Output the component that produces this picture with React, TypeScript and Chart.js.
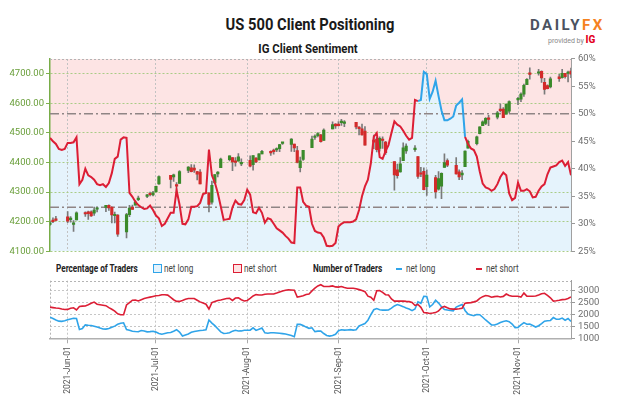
import React, { useEffect, useRef } from "react";
import { Chart, registerables } from "chart.js";

Chart.register(...registerables);

// ---------- DATA ----------
const axisRange = ["2021-05-26", "2021-11-19"];
const seriesStart = "2021-05-26"; // daily series below start on this date

// IG client net-long percentage (daily)
const netLongPct = [
  45.6, 45.0, 44.5, 43.6, 43.4, 43.6,
  44.7, 44.7, 44.8, 45.7, 37.2, 38.0, 40.0, 38.8, 38.5, 38.0,
  37.2, 37.0, 37.2, 36.7, 37.4, 39.2, 41.8, 42.2, 45.3, 45.7,
  45.6, 35.6, 34.9, 34.0, 33.4, 33.0, 32.7, 32.8, 33.3, 32.5,
  31.5, 31.0, 29.6, 30.0, 31.0, 32.0, 32.0, 36.1, 33.5, 30.0,
  29.9, 30.8, 33.1, 33.1, 33.2, 33.8, 35.4, 35.6, 43.5, 38.8,
  37.5, 35.6, 33.2, 30.7, 30.8, 30.9, 33.0, 34.2, 33.6, 33.5,
  34.3, 36.2, 35.3, 32.1, 31.9, 32.9, 32.0, 30.2, 31.0, 30.8,
  30.0, 29.2, 28.8, 28.4, 27.8, 27.3, 26.6, 26.5, 36.6, 36.6,
  34.0, 33.3, 33.1, 30.0, 28.7, 28.4, 28.3, 27.5, 26.0, 25.9,
  26.0, 26.5, 29.5, 30.0, 30.3, 30.3, 30.3, 30.4, 30.8, 32.5,
  35.0, 36.8, 38.0, 41.0, 45.8, 46.5, 42.1, 41.8, 43.2, 44.3,
  46.5, 48.6, 48.0, 47.7, 46.9, 46.0, 45.3, 45.6, 52.5, 52.3,
  52.5, 57.6, 57.2, 52.7, 54.0, 56.0, 53.2, 50.6, 48.8, 48.8,
  49.1, 49.5, 51.5, 52.0, 52.6, 45.8, 44.5, 43.7, 43.4, 42.2,
  39.5, 37.3, 36.6, 36.4, 36.0, 36.3, 37.2, 38.5, 39.3, 38.8,
  35.5, 34.3, 34.7, 37.5, 36.0, 36.0, 36.3, 35.9, 34.8, 34.9,
  36.0, 36.8, 37.2, 39.0, 40.2, 40.4, 40.6, 41.2, 41.5, 40.5,
  41.2, 38.8,
];

// Period in which the sentiment line is drawn as "net long"
const netLongLeadSpan = ["2021-09-28", "2021-10-13"];

// Number of traders (daily)
const netShortCount = [
  2310, 2290, 2270, 2260, 2230, 2210,
  2215, 2260, 2280, 2190, 2340, 2350, 2360, 2410, 2470, 2520,
  2430, 2410, 2390, 2370, 2290, 2220, 2140, 2030, 1990, 1990,
  2400, 2500, 2600, 2610, 2570, 2620, 2670, 2700, 2730, 2760,
  2790, 2800, 2830, 2830, 2815, 2720, 2620, 2550, 2550, 2590,
  2640, 2673, 2673, 2673, 2600, 2530, 2480, 2430, 2230, 2500,
  2550, 2590, 2610, 2640, 2670, 2680, 2591, 2690, 2697, 2620,
  2570, 2590, 2680, 2780, 2836, 2820, 2820, 2850, 2860, 2860,
  2860, 2900, 2945, 2990, 3020, 3040, 3030, 3020, 2730, 2760,
  2790, 2840, 2860, 2990, 3110, 3200, 3250, 3175, 3175, 3180,
  3200, 3160, 3150, 3175, 3130, 3105, 3105, 3105, 3080, 3045,
  3010, 2960, 2770, 2730, 2600, 3000, 3010, 2930, 2830, 2820,
  2650, 2563, 2563, 2563, 2563, 2550, 2540, 2510, 2380, 2420,
  2300, 2080, 2070, 2044, 2060, 2080, 2150, 2290, 2340, 2280,
  2235, 2224, 2224, 2240, 2265, 2475, 2490, 2500, 2530, 2570,
  2680, 2750, 2800, 2780, 2726, 2750, 2767, 2735, 2760, 2860,
  2800, 2767, 2767, 2767, 2730, 2900, 2770, 2767, 2767, 2780,
  2820, 2870, 2890, 2800, 2700, 2563, 2580, 2600, 2625, 2632,
  2670, 2740,
];

const netLongCount = [
  1890, 1830, 1770, 1720, 1710, 1740,
  1775, 1810, 1840, 1830, 1370, 1408, 1565, 1550, 1540, 1510,
  1475, 1430, 1390, 1385, 1408, 1460, 1510, 1590, 1630, 1650,
  1370, 1340, 1298, 1285, 1275, 1325, 1310, 1270, 1280, 1295,
  1260, 1205, 1170, 1200, 1231, 1245, 1300, 1360, 1260, 1094,
  1140, 1185, 1250, 1285, 1310, 1325, 1340, 1360, 1770, 1640,
  1530, 1400, 1270, 1204, 1215, 1231, 1300, 1335, 1305, 1310,
  1339, 1339, 1339, 1440, 1330, 1380, 1430, 1230, 1210, 1231,
  1231, 1225, 1210, 1195, 1180, 1150, 1115, 1070, 1584, 1584,
  1540, 1470, 1420, 1440, 1280, 1300, 1300, 1200, 1120, 1094,
  1120, 1170, 1320, 1360, 1345, 1350, 1365, 1345, 1360, 1520,
  1570, 1620, 1760, 1990, 2200, 2250, 2200, 2183, 2183, 2190,
  2270, 2360, 2420, 2380, 2330, 2270, 2230, 2160, 2230, 2534,
  2470, 2767, 2760, 2318, 2420, 2600, 2480, 2330, 2210, 2190,
  2170, 2155, 2310, 2370, 2420, 2170, 2020, 1980, 1950, 2000,
  1990, 1885, 1770, 1670, 1560, 1560, 1600, 1660, 1706, 1735,
  1700, 1600, 1449, 1460, 1560, 1660, 1590, 1600, 1540, 1475,
  1530, 1620, 1720, 1735, 1750, 1870, 1800, 1800, 1850, 1760,
  1830, 1706,
];

// US 500 daily candles
const candleDates = [
  "2021-05-26", "2021-05-27", "2021-05-28",
  "2021-06-01", "2021-06-02", "2021-06-03", "2021-06-04",
  "2021-06-07", "2021-06-08", "2021-06-09", "2021-06-10", "2021-06-11",
  "2021-06-14", "2021-06-15", "2021-06-16", "2021-06-17", "2021-06-18",
  "2021-06-21", "2021-06-22", "2021-06-23", "2021-06-24", "2021-06-25",
  "2021-06-28", "2021-06-29", "2021-06-30", "2021-07-01", "2021-07-02",
  "2021-07-06", "2021-07-07", "2021-07-08", "2021-07-09",
  "2021-07-12", "2021-07-13", "2021-07-14", "2021-07-15", "2021-07-16",
  "2021-07-19", "2021-07-20", "2021-07-21", "2021-07-22", "2021-07-23",
  "2021-07-26", "2021-07-27", "2021-07-28", "2021-07-29", "2021-07-30",
  "2021-08-02", "2021-08-03", "2021-08-04", "2021-08-05", "2021-08-06",
  "2021-08-09", "2021-08-10", "2021-08-11", "2021-08-12", "2021-08-13",
  "2021-08-16", "2021-08-17", "2021-08-18", "2021-08-19", "2021-08-20",
  "2021-08-23", "2021-08-24", "2021-08-25", "2021-08-26", "2021-08-27",
  "2021-08-30", "2021-08-31", "2021-09-01", "2021-09-02", "2021-09-03",
  "2021-09-07", "2021-09-08", "2021-09-09", "2021-09-10",
  "2021-09-13", "2021-09-14", "2021-09-15", "2021-09-16", "2021-09-17",
  "2021-09-20", "2021-09-21", "2021-09-22", "2021-09-23", "2021-09-24",
  "2021-09-27", "2021-09-28", "2021-09-29", "2021-09-30", "2021-10-01",
  "2021-10-04", "2021-10-05", "2021-10-06", "2021-10-07", "2021-10-08",
  "2021-10-11", "2021-10-12", "2021-10-13", "2021-10-14", "2021-10-15",
  "2021-10-18", "2021-10-19", "2021-10-20", "2021-10-21", "2021-10-22",
  "2021-10-25", "2021-10-26", "2021-10-27", "2021-10-28", "2021-10-29",
  "2021-11-01", "2021-11-02", "2021-11-03", "2021-11-04", "2021-11-05",
  "2021-11-08", "2021-11-09", "2021-11-10", "2021-11-11", "2021-11-12",
  "2021-11-15", "2021-11-16", "2021-11-17", "2021-11-18", "2021-11-19",
];
const candleOpen = [
  4191, 4201, 4210,
  4216, 4207, 4191, 4206,
  4229, 4233, 4233, 4229, 4242,
  4248, 4255, 4249, 4220, 4222,
  4165, 4224, 4249, 4256, 4274,
  4285, 4293, 4290, 4300, 4327,
  4356, 4351, 4321, 4329,
  4373, 4382, 4381, 4369, 4367,
  4297, 4266, 4331, 4361, 4382,
  4409, 4416, 4402, 4404, 4395,
  4407, 4392, 4415, 4408, 4429,
  4437, 4442, 4442, 4446, 4464,
  4461, 4462, 4440, 4382, 4410,
  4450, 4484, 4490, 4493, 4474,
  4513, 4529, 4528, 4534, 4532,
  4535, 4518, 4513, 4506,
  4475, 4479, 4447, 4477, 4469,
  4403, 4375, 4368, 4406, 4439,
  4443, 4420, 4363, 4370, 4318,
  4349, 4310, 4320, 4383, 4406,
  4390, 4368, 4358, 4386, 4448,
  4463, 4497, 4524, 4532, 4547,
  4553, 4579, 4580, 4563, 4573,
  4611, 4613, 4630, 4662, 4699,
  4701, 4707, 4670, 4659, 4655,
  4689, 4686, 4701, 4700, 4708,
];
const candleHigh = [
  4202, 4213, 4218,
  4234, 4217, 4204, 4233,
  4233, 4236, 4237, 4249, 4249,
  4255, 4257, 4251, 4232, 4224,
  4228, 4255, 4256, 4271, 4286,
  4292, 4300, 4302, 4320, 4355,
  4356, 4361, 4332, 4372,
  4386, 4393, 4392, 4370, 4376,
  4297, 4337, 4359, 4369, 4415,
  4422, 4416, 4416, 4430, 4412,
  4422, 4423, 4416, 4430, 4441,
  4439, 4445, 4449, 4461, 4468,
  4480, 4462, 4454, 4418, 4441,
  4489, 4493, 4501, 4495, 4513,
  4537, 4531, 4538, 4545, 4541,
  4535, 4521, 4529, 4521,
  4492, 4485, 4486, 4486, 4471,
  4403, 4394, 4416, 4466, 4463,
  4457, 4420, 4383, 4382, 4375,
  4356, 4369, 4365, 4429, 4412,
  4416, 4375, 4372, 4439, 4475,
  4489, 4520, 4540, 4551, 4559,
  4572, 4598, 4585, 4597, 4608,
  4620, 4635, 4664, 4683, 4719,
  4714, 4709, 4684, 4662, 4688,
  4697, 4714, 4701, 4708, 4718,
];
const candleLow = [
  4187, 4197, 4203,
  4197, 4198, 4167, 4206,
  4218, 4208, 4218, 4221, 4233,
  4234, 4238, 4196, 4196, 4150,
  4145, 4217, 4241, 4256, 4271,
  4281, 4287, 4287, 4300, 4326,
  4314, 4336, 4289, 4329,
  4365, 4368, 4366, 4341, 4327,
  4233, 4259, 4329, 4351, 4382,
  4405, 4372, 4387, 4404, 4389,
  4385, 4374, 4399, 4408, 4429,
  4424, 4428, 4436, 4436, 4461,
  4437, 4436, 4398, 4368, 4407,
  4450, 4478, 4486, 4468, 4474,
  4513, 4515, 4522, 4525, 4521,
  4513, 4493, 4492, 4458,
  4446, 4435, 4438, 4447, 4427,
  4306, 4347, 4367, 4406, 4430,
  4437, 4346, 4352, 4307, 4289,
  4279, 4306, 4278, 4383, 4386,
  4360, 4342, 4342, 4386, 4448,
  4459, 4496, 4524, 4527, 4524,
  4547, 4570, 4551, 4563, 4567,
  4595, 4605, 4623, 4662, 4681,
  4694, 4670, 4630, 4648, 4651,
  4673, 4684, 4684, 4672, 4686,
];
const candleClose = [
  4195, 4200, 4204,
  4202, 4208, 4192, 4230,
  4226, 4227, 4219, 4239, 4247,
  4255, 4246, 4223, 4222, 4158,
  4224, 4246, 4241, 4266, 4280,
  4291, 4291, 4297, 4319, 4352,
  4343, 4358, 4320, 4369,
  4384, 4369, 4374, 4360, 4327,
  4258, 4323, 4359, 4367, 4411,
  4422, 4402, 4400, 4419, 4395,
  4387, 4423, 4402, 4429, 4437,
  4432, 4436, 4447, 4460, 4468,
  4479, 4449, 4400, 4405, 4441,
  4479, 4486, 4497, 4470, 4509,
  4528, 4523, 4524, 4537, 4535,
  4520, 4514, 4493, 4458,
  4468, 4443, 4481, 4474, 4433,
  4358, 4355, 4395, 4449, 4455,
  4443, 4353, 4360, 4308, 4357,
  4300, 4345, 4363, 4399, 4391,
  4361, 4351, 4364, 4438, 4471,
  4486, 4520, 4537, 4549, 4545,
  4567, 4575, 4551, 4597, 4605,
  4614, 4631, 4660, 4680, 4697,
  4702, 4685, 4646, 4649, 4682,
  4683, 4701, 4689, 4704, 4698,
];

const monthTickDates = ["2021-06-01", "2021-07-01", "2021-08-01", "2021-09-01", "2021-10-01", "2021-11-01"];
const monthTickLabels = ["2021-Jun-01", "2021-Jul-01", "2021-Aug-01", "2021-Sep-01", "2021-Oct-01", "2021-Nov-01"];
const priceTicks = [4100, 4200, 4300, 4400, 4500, 4600, 4700];
const priceRange = [4100, 4750];
const pctTicks = [25, 30, 35, 40, 45, 50, 55, 60];
const pctRange = [25, 60];
const traderTicks = [1000, 1500, 2000, 2500, 3000];
const traderRange = [1000, 3420];
const sentimentLevels = [50, 33];

// ---------- HELPERS ----------
const BASE = Date.parse("2021-06-01T00:00:00Z");
const dayOf = (s: string) => Math.round((Date.parse(s + "T00:00:00Z") - BASE) / 86400000);

const RED = "#dc1e35";
const BLUE = "#2fa4e9";
const FILL_BLUE = "#e5f3fc";
const FILL_PINK = "#fde4e4";
const FONT = "Roboto, 'Liberation Sans', sans-serif";

const makeFramePlugin = (edges: { top?: boolean; left?: boolean }) => ({
  id: "frame",
  beforeDatasetsDraw(chart: any) {
    const { ctx, chartArea: a } = chart;
    ctx.save();
    ctx.strokeStyle = "#b4b4b4";
    ctx.lineWidth = 1;
    ctx.setLineDash([2, 2]);
    ctx.beginPath();
    if (edges.top) {
      ctx.moveTo(a.left, Math.round(a.top) + 0.5);
      ctx.lineTo(a.right, Math.round(a.top) + 0.5);
    }
    if (edges.left) {
      ctx.moveTo(Math.round(a.left) + 0.5, a.top);
      ctx.lineTo(Math.round(a.left) + 0.5, a.bottom);
    }
    ctx.stroke();
    ctx.restore();
  },
});

const refLinesPlugin = {
  id: "refLines",
  beforeDatasetsDraw(chart: any) {
    const { ctx, chartArea: a } = chart;
    const s = chart.scales.yPct;
    ctx.save();
    ctx.strokeStyle = "#8f8585";
    ctx.lineWidth = 1.5;
    ctx.setLineDash([9, 3, 2, 3]);
    sentimentLevels.forEach((v) => {
      const y = s.getPixelForValue(v);
      ctx.beginPath();
      ctx.moveTo(a.left, y);
      ctx.lineTo(a.right, y);
      ctx.stroke();
    });
    ctx.restore();
  },
};

export default function App() {
  const mainRef = useRef<HTMLCanvasElement>(null);
  const lowerRef = useRef<HTMLCanvasElement>(null);

  useEffect(() => {
    const xMin = dayOf(axisRange[0]);
    const xMax = dayOf(axisRange[1]);
    const start = dayOf(seriesStart);
    const monthVals = monthTickDates.map(dayOf);
    const leadFrom = dayOf(netLongLeadSpan[0]);
    const leadTo = dayOf(netLongLeadSpan[1]);

    const pctPts = netLongPct.map((v, i) => ({ x: start + i, y: v }));
    const shortPts = netShortCount.map((v, i) => ({ x: start + i, y: v }));
    const longPts = netLongCount.map((v, i) => ({ x: start + i, y: v }));
    const bodies = candleDates.map((d, i) => ({ x: dayOf(d), y: [candleOpen[i], candleClose[i]] }));
    const wicks = candleDates.map((d, i) => ({ x: dayOf(d), y: [candleLow[i], candleHigh[i]] }));
    const bodyColors = candleDates.map((_, i) => (candleClose[i] >= candleOpen[i] ? "#3a8a2a" : "#d32a2a"));

    const monthTickCb = (v: any) => {
      const i = monthVals.indexOf(v);
      return i >= 0 ? monthTickLabels[i] : "";
    };

    const main = new Chart(mainRef.current as HTMLCanvasElement, {
      type: "bar",
      data: {
        datasets: [
          {
            type: "line",
            data: pctPts,
            yAxisID: "yPct",
            borderColor: RED,
            borderWidth: 2,
            pointRadius: 0,
            fill: false,
            order: 0,
            segment: {
              borderColor: (ctx: any) => {
                const x = pctPts[ctx.p0DataIndex].x;
                return x >= leadFrom && x <= leadTo ? BLUE : RED;
              },
            },
          } as any,
          {
            type: "bar",
            data: bodies,
            yAxisID: "yPrice",
            backgroundColor: bodyColors,
            barThickness: 2.5,
            minBarLength: 1.5,
            grouped: false,
            borderWidth: 0,
            order: 1,
          } as any,
          {
            type: "bar",
            data: wicks,
            yAxisID: "yPrice",
            backgroundColor: "#7a7a7a",
            barThickness: 1,
            grouped: false,
            borderWidth: 0,
            order: 2,
          } as any,
          {
            type: "line",
            data: pctPts,
            yAxisID: "yPct",
            borderColor: "transparent",
            borderWidth: 0,
            pointRadius: 0,
            fill: "start",
            backgroundColor: FILL_BLUE,
            order: 3,
          } as any,
          {
            type: "line",
            data: pctPts,
            yAxisID: "yPct",
            borderColor: "transparent",
            borderWidth: 0,
            pointRadius: 0,
            fill: "end",
            backgroundColor: FILL_PINK,
            order: 3,
          } as any,
        ],
      },
      options: {
        animation: false,
        responsive: false,
        events: [],
        layout: { padding: { top: 7, bottom: 8, left: 0, right: 0 } },
        plugins: {
          legend: { display: false },
          tooltip: { enabled: false },
          filler: { drawTime: "beforeDraw" } as any,
        },
        scales: {
          x: {
            type: "linear",
            position: "top",
            min: xMin,
            max: xMax,
            offset: false,
            afterBuildTicks: (s: any) => {
              s.ticks = monthVals.map((v) => ({ value: v }));
            },
            afterFit: (s: any) => {
              s.height = 0;
            },
            grid: { color: "#c2c2c2", drawTicks: false, offset: false },
            border: { display: false, dash: [2, 2] },
            ticks: { display: false },
          },
          yPrice: {
            type: "linear",
            position: "left",
            min: priceRange[0],
            max: priceRange[1],
            afterBuildTicks: (s: any) => {
              s.ticks = priceTicks.map((v) => ({ value: v }));
            },
            afterFit: (s: any) => {
              s.width = 50;
            },
            grid: { color: "#a9cc86", tickLength: 4, tickColor: "#7fb04f" },
            border: { display: true, color: "#78ad48", width: 1.5, dash: [2, 2] },
            ticks: {
              color: "#6a9f3b",
              font: { family: FONT, size: 9.5 },
              padding: 2,
              autoSkip: false,
              callback: (v: any) => Number(v).toFixed(2),
            },
          },
          yPct: {
            type: "linear",
            position: "right",
            min: pctRange[0],
            max: pctRange[1],
            afterBuildTicks: (s: any) => {
              s.ticks = pctTicks.map((v) => ({ value: v }));
            },
            afterFit: (s: any) => {
              s.width = 53;
            },
            grid: { drawOnChartArea: false, tickLength: 4, color: "#999" },
            border: { display: true, color: "#a0a0a0", width: 1 },
            ticks: {
              color: "#6e6e6e",
              font: { family: FONT, size: 9.5 },
              padding: 3,
              autoSkip: false,
              callback: (v: any) => v + "%",
            },
          },
        },
      } as any,
      plugins: [makeFramePlugin({ top: true }), refLinesPlugin],
    });

    const lower = new Chart(lowerRef.current as HTMLCanvasElement, {
      type: "line",
      data: {
        datasets: [
          { data: shortPts, borderColor: RED, borderWidth: 1.6, pointRadius: 0, fill: false },
          { data: longPts, borderColor: BLUE, borderWidth: 1.6, pointRadius: 0, fill: false },
        ],
      },
      options: {
        animation: false,
        responsive: false,
        events: [],
        layout: { padding: { top: 7.5, bottom: 0, left: 50, right: 0 } },
        plugins: { legend: { display: false }, tooltip: { enabled: false } },
        scales: {
          x: {
            type: "linear",
            position: "bottom",
            min: xMin,
            max: xMax,
            afterBuildTicks: (s: any) => {
              s.ticks = monthVals.map((v) => ({ value: v }));
            },
            afterFit: (s: any) => {
              s.height = 77.7;
            },
            grid: { color: "#c6c6c6", tickLength: 5, tickColor: "#aaa" },
            border: { display: true, color: "#b0b0b0", width: 1.5, dash: [2, 2] },
            ticks: {
              minRotation: 90,
              maxRotation: 90,
              autoSkip: false,
              padding: 3,
              color: "#555",
              font: { family: FONT, size: 8.5 },
              callback: monthTickCb,
            },
          },
          y: {
            type: "linear",
            position: "right",
            min: traderRange[0],
            max: traderRange[1],
            afterBuildTicks: (s: any) => {
              s.ticks = traderTicks.map((v) => ({ value: v }));
            },
            afterFit: (s: any) => {
              s.width = 53;
            },
            grid: { color: "#c6c6c6", tickLength: 4, tickColor: "#999" },
            border: { display: true, color: "#a0a0a0", width: 1, dash: [2, 2] },
            ticks: {
              color: "#6e6e6e",
              font: { family: FONT, size: 9.5 },
              padding: 3,
              autoSkip: false,
              callback: (v: any) => String(v),
            },
          },
        },
      } as any,
      plugins: [makeFramePlugin({ top: true, left: true })],
    });

    return () => {
      main.destroy();
      lower.destroy();
    };
  }, []);

  const abs = (s: any) => ({ position: "absolute", whiteSpace: "nowrap", ...s } as React.CSSProperties);
  const narrow = { transform: "scaleX(0.78)", transformOrigin: "left center" };

  return (
    <div style={{ position: "fixed", left: 0, top: 0, width: 624, height: 416, background: "#fff", fontFamily: FONT, color: "#222", overflow: "hidden" }}>
      <div style={abs({ left: 0, width: 620, top: 15, textAlign: "center", fontSize: 16, fontWeight: 700, color: "#1a1a1a", transform: "scaleX(0.92)", transformOrigin: "center" })}>
        US 500 Client Positioning
      </div>
      <div style={abs({ left: 0, width: 616, top: 42, textAlign: "center", fontSize: 12, fontWeight: 700, color: "#1a1a1a", transform: "scaleX(0.95)", transformOrigin: "center" })}>
        IG Client Sentiment
      </div>
      <div style={abs({ left: 530, top: 16, fontSize: 15, fontWeight: 700, letterSpacing: 2.5, color: "#4b5260" })}>
        DAILY<span style={{ color: "#f5821f" }}>FX</span>
      </div>
      <div style={abs({ left: 548, top: 34, fontSize: 7, color: "#888" })}>
        provided by <span style={{ color: "#e3001b", fontWeight: 800, fontSize: 10 }}>IG</span>
      </div>

      <canvas ref={mainRef} width={624} height={210} style={{ position: "absolute", left: 0, top: 50, width: 624, height: 210 }} />

      <div style={abs({ left: 56, top: 262, fontSize: 10.5, fontWeight: 700, ...narrow })}>Percentage of Traders</div>
      <div style={abs({ left: 153, top: 264, width: 7, height: 7, border: `1.5px solid ${BLUE}`, background: FILL_BLUE })} />
      <div style={abs({ left: 164, top: 262, fontSize: 10.5, color: "#444", ...narrow })}>net long</div>
      <div style={abs({ left: 233, top: 264, width: 7, height: 7, border: `1.5px solid ${RED}`, background: FILL_PINK })} />
      <div style={abs({ left: 244, top: 262, fontSize: 10.5, color: "#444", ...narrow })}>net short</div>
      <div style={abs({ left: 313, top: 262, fontSize: 10.5, fontWeight: 700, ...narrow })}>Number of Traders</div>
      <div style={abs({ left: 396, top: 268, width: 6, height: 2, background: BLUE })} />
      <div style={abs({ left: 406, top: 262, fontSize: 10.5, color: "#444", ...narrow })}>net long</div>
      <div style={abs({ left: 476, top: 268, width: 6, height: 2, background: RED })} />
      <div style={abs({ left: 486, top: 262, fontSize: 10.5, color: "#444", ...narrow })}>net short</div>

      <canvas ref={lowerRef} width={624} height={144} style={{ position: "absolute", left: 0, top: 272, width: 624, height: 144 }} />
    </div>
  );
}
